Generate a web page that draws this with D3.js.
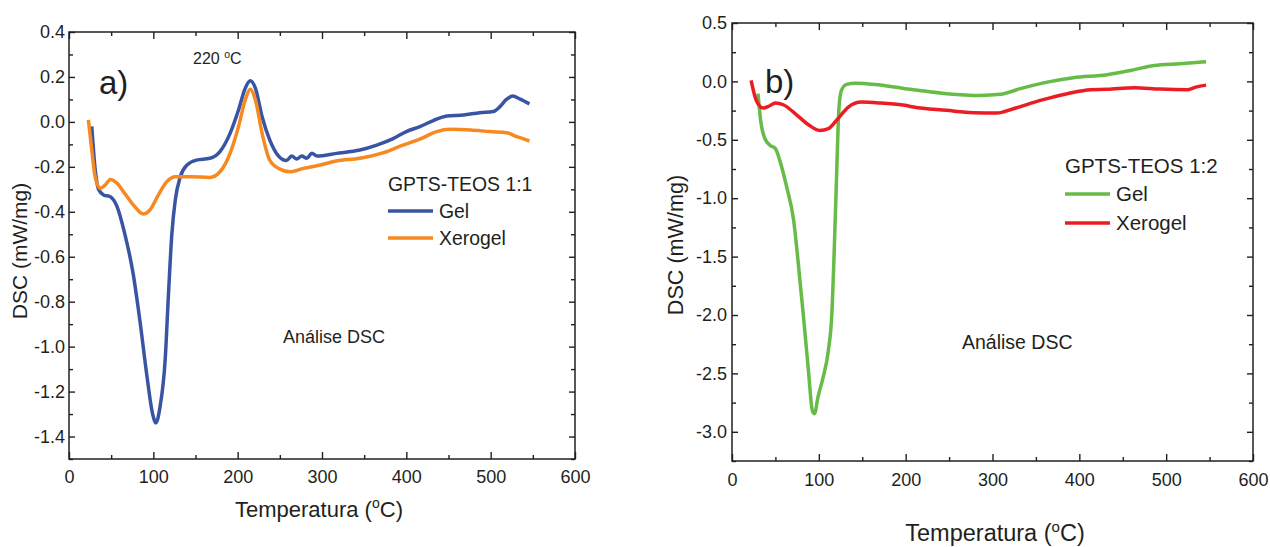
<!DOCTYPE html>
<html>
<head>
<meta charset="utf-8">
<script src="https://cdn.jsdelivr.net/npm/d3@7"></script>
<style>
  body { margin: 0; background: #fff; }
  svg text { font-family: "Liberation Sans", Arial, sans-serif; fill: #231f20; }
</style>
</head>
<body>
<svg id="chart" width="1270" height="547"></svg>
<script>
// ---- data ----
// panel a) GPTS-TEOS 1:1
let tempA_gel = [27, 31, 35, 41, 49, 57, 66, 76, 84, 92, 99, 103, 108, 114, 118, 122, 126, 132, 140, 151, 167, 179, 191, 201, 209, 215, 221, 229, 238, 248, 258, 264, 270, 276, 282, 288, 294, 317, 345, 365, 385, 400, 416, 432, 448, 468, 487, 503, 511, 519, 526, 535, 546]
let dscA_gel = [-0.02, -0.21, -0.30, -0.325, -0.333, -0.377, -0.496, -0.674, -0.882, -1.119, -1.297, -1.339, -1.267, -1.06, -0.763, -0.496, -0.348, -0.244, -0.192, -0.170, -0.162, -0.132, -0.051, 0.053, 0.150, 0.183, 0.150, 0.023, -0.08, -0.15, -0.172, -0.152, -0.165, -0.152, -0.162, -0.140, -0.152, -0.140, -0.125, -0.103, -0.073, -0.043, -0.021, 0.006, 0.026, 0.031, 0.041, 0.046, 0.068, 0.101, 0.115, 0.101, 0.080]
let tempA_xero = [23, 27, 31, 37, 43, 49, 57, 66, 78, 88, 96, 106, 116, 126, 144, 167, 179, 191, 201, 209, 215, 221, 229, 238, 250, 262, 278, 298, 317, 345, 373, 396, 416, 436, 452, 476, 499, 519, 531, 546]
let dscA_xero = [0.009, -0.125, -0.244, -0.296, -0.281, -0.256, -0.273, -0.318, -0.377, -0.410, -0.392, -0.325, -0.266, -0.244, -0.244, -0.247, -0.222, -0.140, -0.021, 0.098, 0.145, 0.098, -0.051, -0.170, -0.21, -0.222, -0.207, -0.192, -0.174, -0.162, -0.137, -0.103, -0.077, -0.043, -0.033, -0.036, -0.043, -0.048, -0.066, -0.085]

// panel b) GPTS-TEOS 1:2
let tempB_gel = [30, 33, 38, 44, 50, 55, 63, 71, 76, 82, 88, 92.5, 95, 99, 105, 111, 115, 118, 121, 123, 126, 132, 142, 165, 199, 209, 247, 286, 309, 332, 363, 393, 432, 459, 486, 516, 546]
let dscB_gel = [-0.105, -0.334, -0.491, -0.548, -0.576, -0.676, -0.905, -1.19, -1.533, -1.989, -2.474, -2.817, -2.845, -2.703, -2.532, -2.303, -1.989, -1.389, -0.676, -0.248, -0.077, -0.026, -0.015, -0.026, -0.062, -0.071, -0.105, -0.120, -0.111, -0.062, -0.006, 0.032, 0.057, 0.094, 0.137, 0.152, 0.169]
let tempB_xero = [22, 28, 36, 42, 50, 59, 73, 88, 101, 111, 121, 134, 149, 171, 199, 209, 247, 278, 305, 324, 355, 386, 413, 432, 463, 493, 524, 534, 546]
let dscB_xero = [0.009, -0.163, -0.228, -0.214, -0.185, -0.200, -0.277, -0.371, -0.420, -0.405, -0.328, -0.220, -0.177, -0.185, -0.205, -0.220, -0.248, -0.268, -0.271, -0.234, -0.163, -0.105, -0.071, -0.068, -0.054, -0.066, -0.071, -0.049, -0.032]

// ticks
let xTicks = [0, 100, 200, 300, 400, 500, 600]
let xMinor = [50, 150, 250, 350, 450, 550]
let yTicksA = [-1.4, -1.2, -1.0, -0.8, -0.6, -0.4, -0.2, 0.0, 0.2, 0.4]
let yMinorA = [-1.5, -1.3, -1.1, -0.9, -0.7, -0.5, -0.3, -0.1, 0.1, 0.3]
let yTicksB = [-3.0, -2.5, -2.0, -1.5, -1.0, -0.5, 0.0, 0.5]
let yMinorB = [-3.25, -2.75, -2.25, -1.75, -1.25, -0.75, -0.25, 0.25]

let svg = d3.select('#chart')
let ink = '#231f20'

function zip(t, v) {
  return t.map(function(d, i) { return [d, v[i]] })
}

function drawPanel(p) {
  let x = d3.scaleLinear().domain([0, 600]).range([p.left, p.right])
  let y = d3.scaleLinear().domain(p.yDomain).range([p.bottom, p.top])
  let g = svg.append('g')

  // frame
  g.append('rect')
    .attr('x', p.left).attr('y', p.top)
    .attr('width', p.right - p.left).attr('height', p.bottom - p.top)
    .attr('fill', 'none').attr('stroke', ink).attr('stroke-width', 1.5)

  // inward ticks on all four sides
  let fmt = function(d) { return d.toFixed(1) }
  let ax = [
    g.append('g').attr('transform', 'translate(0,' + p.bottom + ')')
      .call(d3.axisBottom(x).tickValues(xTicks).tickSize(-7).tickPadding(p.xPad).tickFormat(d3.format('d'))),
    g.append('g').attr('transform', 'translate(0,' + p.bottom + ')')
      .call(d3.axisBottom(x).tickValues(xMinor).tickSize(-4).tickFormat('')),
    g.append('g').attr('transform', 'translate(0,' + p.top + ')')
      .call(d3.axisTop(x).tickValues(xTicks).tickSize(-7).tickFormat('')),
    g.append('g').attr('transform', 'translate(0,' + p.top + ')')
      .call(d3.axisTop(x).tickValues(xMinor).tickSize(-4).tickFormat('')),
    g.append('g').attr('transform', 'translate(' + p.left + ',0)')
      .call(d3.axisLeft(y).tickValues(p.yTicks).tickSize(-6).tickPadding(p.yPad).tickFormat(fmt)),
    g.append('g').attr('transform', 'translate(' + p.left + ',0)')
      .call(d3.axisLeft(y).tickValues(p.yMinor).tickSize(-4).tickFormat('')),
    g.append('g').attr('transform', 'translate(' + p.right + ',0)')
      .call(d3.axisRight(y).tickValues(p.yTicks).tickSize(-6).tickFormat('')),
    g.append('g').attr('transform', 'translate(' + p.right + ',0)')
      .call(d3.axisRight(y).tickValues(p.yMinor).tickSize(-4).tickFormat(''))
  ]
  ax.forEach(function(a) {
    a.select('.domain').remove()
    a.selectAll('line').attr('stroke', ink).attr('stroke-width', 1.4)
    a.selectAll('text').attr('font-size', 18).attr('fill', ink)
      .style('font-family', '"Liberation Sans", Arial, sans-serif')
  })

  // curves
  let line = d3.line()
    .x(function(d) { return x(d[0]) })
    .y(function(d) { return y(d[1]) })
    .curve(d3.curveMonotoneX)
  p.series.forEach(function(s) {
    g.append('path')
      .datum(zip(s.t, s.v))
      .attr('d', line)
      .attr('fill', 'none')
      .attr('stroke', s.color)
      .attr('stroke-width', 3.5)
      .attr('stroke-linejoin', 'round')
  })

  // axis titles
  let xt = g.append('text')
    .attr('x', p.xTitleX).attr('y', p.xTitleY)
    .attr('text-anchor', 'middle').attr('font-size', p.xTitleSize)
  xt.append('tspan').text('Temperatura (')
  xt.append('tspan').attr('font-size', p.xTitleSize * 0.64).attr('dy', -9).text('o')
  xt.append('tspan').attr('dy', 9).text('C)')

  g.append('text')
    .attr('transform', 'translate(' + p.yTitleX + ',' + p.yTitleY + ') rotate(-90)')
    .attr('text-anchor', 'middle').attr('font-size', p.yTitleSize)
    .text('DSC (mW/mg)')

  // panel letter
  g.append('text').attr('x', p.letterX).attr('y', p.letterY)
    .attr('font-size', 33).text(p.letter)

  // note
  g.append('text').attr('x', p.noteX).attr('y', p.noteY)
    .attr('font-size', p.noteSize).text('Análise DSC')

  // legend
  g.append('text').attr('x', p.legX).attr('y', p.legY)
    .attr('font-size', p.legSize).text(p.legTitle)
  p.series.forEach(function(s, i) {
    let ly = p.legY + p.legOff + i * p.legGap
    g.append('line')
      .attr('x1', p.legX).attr('x2', p.legX + 45)
      .attr('y1', ly).attr('y2', ly)
      .attr('stroke', s.color).attr('stroke-width', 3.5)
    g.append('text').attr('x', p.legX + 51).attr('y', ly + 7)
      .attr('font-size', p.legSize).text(s.name)
  })
}

drawPanel({
  left: 69, right: 575, top: 32, bottom: 459,
  yDomain: [-1.5, 0.4], yTicks: yTicksA, yMinor: yMinorA,
  xPad: 11, yPad: 4,
  xTitleX: 319, xTitleY: 517, xTitleSize: 22,
  yTitleX: 27, yTitleY: 251, yTitleSize: 21,
  letter: 'a)', letterX: 99, letterY: 94,
  noteX: 283, noteY: 343, noteSize: 18,
  legX: 388, legY: 191, legSize: 19.4, legOff: 20, legGap: 27, legTitle: 'GPTS-TEOS 1:1',
  series: [
    { name: 'Gel', t: tempA_gel, v: dscA_gel, color: '#3a54a4' },
    { name: 'Xerogel', t: tempA_xero, v: dscA_xero, color: '#f6891f' }
  ]
})

drawPanel({
  left: 732, right: 1253, top: 23, bottom: 461,
  yDomain: [-3.25, 0.5], yTicks: yTicksB, yMinor: yMinorB,
  xPad: 12, yPad: 5,
  xTitleX: 995, xTitleY: 541, xTitleSize: 23.5,
  yTitleX: 683, yTitleY: 245, yTitleSize: 21.6,
  letter: 'b)', letterX: 765, letterY: 93,
  noteX: 962, noteY: 349, noteSize: 19.5,
  legX: 1065, legY: 173, legSize: 20.5, legOff: 21, legGap: 29, legTitle: 'GPTS-TEOS 1:2',
  series: [
    { name: 'Gel', t: tempB_gel, v: dscB_gel, color: '#67bb47' },
    { name: 'Xerogel', t: tempB_xero, v: dscB_xero, color: '#ec1c24' }
  ]
})

// 220 °C annotation on panel a
let ann = svg.append('text').attr('x', 193).attr('y', 64).attr('font-size', 16)
ann.append('tspan').text('220 ')
ann.append('tspan').attr('font-size', 10.5).attr('dy', -6).text('o')
ann.append('tspan').attr('dy', 6).text('C')
</script>
</body>
</html>
